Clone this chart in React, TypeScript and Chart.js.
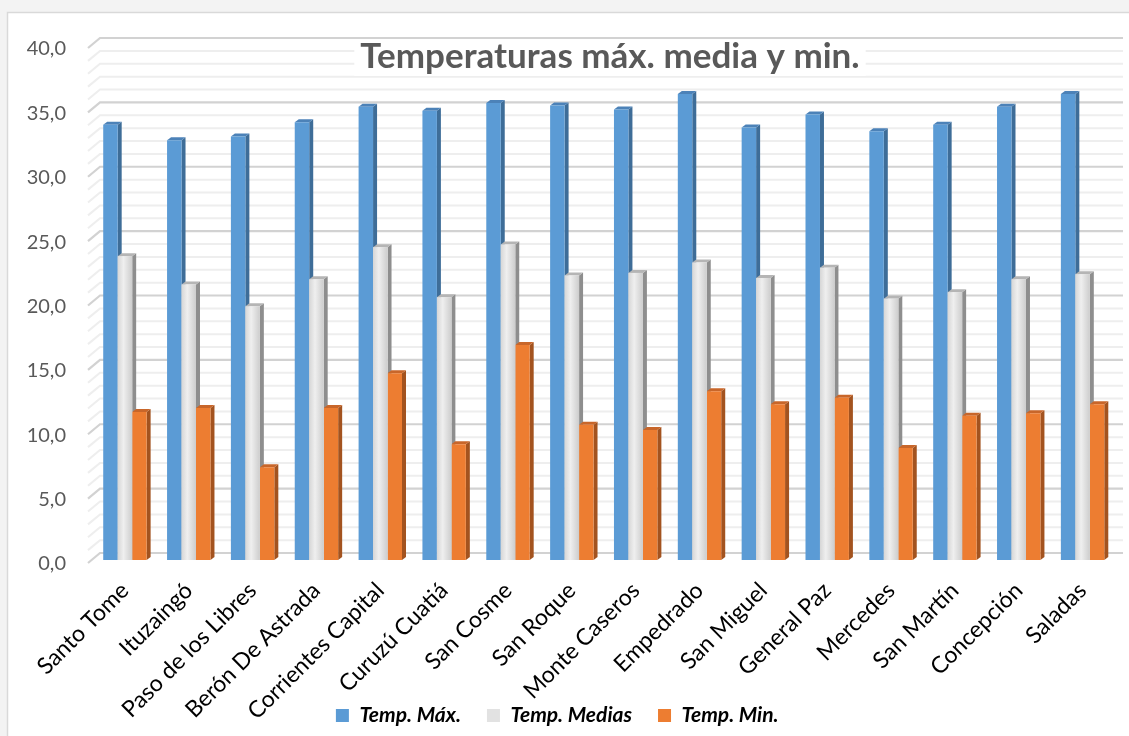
import React, { useEffect, useRef } from 'react';
import { Chart, registerables } from 'chart.js';

Chart.register(...registerables);

const W = 1129;
const H = 736;

const categories = [
  'Santo Tome', 'Ituzaingó', 'Paso de los Libres', 'Berón De Astrada', 'Corrientes Capital',
  'Curuzú Cuatiá', 'San Cosme', 'San Roque', 'Monte Caseros', 'Empedrado', 'San Miguel',
  'General Paz', 'Mercedes', 'San Martín', 'Concepción', 'Saladas',
];
const tempMax = [33.8, 32.6, 32.9, 34.0, 35.2, 34.9, 35.5, 35.3, 35.0, 36.2, 33.6, 34.6, 33.3, 33.8, 35.2, 36.2];
const tempMedias = [23.6, 21.4, 19.7, 21.8, 24.3, 20.4, 24.5, 22.1, 22.3, 23.1, 21.9, 22.7, 20.3, 20.8, 21.8, 22.2];
const tempMin = [11.5, 11.8, 7.2, 11.8, 14.5, 9.0, 16.7, 10.5, 10.1, 13.1, 12.1, 12.6, 8.7, 11.2, 11.4, 12.1];
const yTickLabels = ['0,0', '5,0', '10,0', '15,0', '20,0', '25,0', '30,0', '35,0', '40,0'];
const seriesNames = ['Temp. Máx.', 'Temp. Medias', 'Temp. Min.'];
const titleText = 'Temperaturas máx. media y min.';

const FONT = 'Lato, "Open Sans", sans-serif';
const FRONT = ['#5B9BD5', '#E2E2E2', '#ED7D31'];
const SIDE = ['#3E6D98', '#8E8E8E', '#A3531F'];
const TOP = ['#4C82B8', '#B5B5B5', '#C8662A'];
const DX = 4;
const DY = 3;

const bgPlugin = {
  id: 'bg',
  beforeDraw(chart: any) {
    const ctx = chart.ctx;
    ctx.save();
    ctx.fillStyle = '#f3f3f3';
    ctx.fillRect(0, 0, W, H);
    ctx.fillStyle = '#ffffff';
    ctx.fillRect(7, 12, W, H);
    ctx.strokeStyle = '#d9d9d9';
    ctx.lineWidth = 1.5;
    ctx.strokeRect(7.5, 12.5, W + 20, H + 20);
    ctx.restore();
  },
};

const gridPlugin = {
  id: 'grid3d',
  beforeDatasetsDraw(chart: any) {
    const ctx = chart.ctx;
    const y = chart.scales.y;
    const { left, right } = chart.chartArea;
    ctx.save();
    for (let v = 0; v <= 40; v++) {
      const major = v % 5 === 0;
      const py = y.getPixelForValue(v);
      ctx.strokeStyle = major ? '#d2d2d2' : '#eeeeee';
      ctx.lineWidth = major ? 2.2 : 2;
      ctx.beginPath();
      ctx.moveTo(left - 5, py + 3);
      ctx.lineTo(left + 7, py - 7);
      ctx.lineTo(right + 8.5, py - 7);
      ctx.stroke();
    }
    ctx.restore();
  },
};

const sidesPlugin = {
  id: 'sides3d',
  beforeDatasetsDraw(chart: any) {
    const ctx = chart.ctx;
    ctx.save();
    const n = chart.data.labels.length;
    for (let j = 0; j < n; j++) {
      for (let i = 0; i < chart.data.datasets.length; i++) {
        const el = chart.getDatasetMeta(i).data[j];
        if (!el) continue;
        const { x, y, base, width } = el.getProps(['x', 'y', 'base', 'width'], true);
        const x0 = x - width / 2;
        const x1 = x + width / 2;
        ctx.fillStyle = SIDE[i];
        ctx.beginPath();
        ctx.moveTo(x1, y);
        ctx.lineTo(x1 + DX, y - DY);
        ctx.lineTo(x1 + DX, base - DY);
        ctx.lineTo(x1, base);
        ctx.closePath();
        ctx.fill();
        ctx.fillStyle = TOP[i];
        ctx.beginPath();
        ctx.moveTo(x0, y);
        ctx.lineTo(x1, y);
        ctx.lineTo(x1 + DX, y - DY);
        ctx.lineTo(x0 + DX, y - DY);
        ctx.closePath();
        ctx.fill();
      }
    }
    ctx.restore();
  },
};

const frontPlugin = {
  id: 'front3d',
  afterDatasetsDraw(chart: any) {
    const ctx = chart.ctx;
    ctx.save();
    const meta = chart.getDatasetMeta(1);
    meta.data.forEach((el: any) => {
      const { x, y, base, width } = el.getProps(['x', 'y', 'base', 'width'], true);
      const x0 = x - width / 2;
      const g = ctx.createLinearGradient(x0, 0, x0 + width, 0);
      g.addColorStop(0, '#d6d6d6');
      g.addColorStop(0.4, '#efefef');
      g.addColorStop(1, '#cdcdcd');
      ctx.fillStyle = g;
      ctx.fillRect(x0, y, width, base - y);
    });
    // title
    ctx.font = `bold 35px ${FONT}`;
    const tw = ctx.measureText(titleText).width;
    const cx = 610;
    ctx.fillStyle = '#ffffff';
    ctx.fillRect(cx - tw / 2 - 6, 40, tw + 12, 36);
    ctx.fillStyle = '#595959';
    ctx.textAlign = 'center';
    ctx.textBaseline = 'middle';
    ctx.fillText(titleText, cx, 57);
    ctx.restore();
  },
};

const layoutTweaks = {
  id: 'layoutTweaks',
  afterLayout(chart: any) {
    const xs = chart.scales.x;
    if (xs) xs._computeLabelArea = () => undefined;
  },
};

export default function App() {
  const ref = useRef<HTMLCanvasElement>(null);
  useEffect(() => {
    document.body.style.margin = '0';
    const canvas = ref.current!;
    const chart = new Chart(canvas, {
      type: 'bar',
      data: {
        labels: categories,
        datasets: [
          { label: seriesNames[0], data: tempMax, backgroundColor: FRONT[0], borderWidth: 0 },
          { label: seriesNames[1], data: tempMedias, backgroundColor: FRONT[1], borderWidth: 0 },
          { label: seriesNames[2], data: tempMin, backgroundColor: FRONT[2], borderWidth: 0 },
        ],
      },
      options: {
        responsive: false,
        animation: false,
        layout: { padding: { top: 45, right: 14.5, left: 0, bottom: 0 } },
        datasets: { bar: { categoryPercentage: 0.68, barPercentage: 1.0 } },
        scales: {
          x: {
            grid: { display: false },
            border: { display: false },
            ticks: {
              autoSkip: false,
              minRotation: 45,
              maxRotation: 45,
              padding: 9,
              color: '#000000',
              font: { family: FONT, size: 23 },
            },
            afterFit(scale: any) { scale.height = 119; },
          },
          y: {
            min: 0,
            max: 40,
            grid: { display: false },
            border: { display: false },
            ticks: {
              stepSize: 5,
              padding: 19,
              labelOffset: 4,
              color: '#595959',
              font: { family: FONT, size: 20 },
              callback: (v: any) => yTickLabels[Math.round(Number(v) / 5)],
            },
            afterFit(scale: any) { scale.width = 93; },
          },
        },
        plugins: {
          title: { display: false },
          tooltip: { enabled: false },
          legend: {
            position: 'bottom',
            labels: {
              boxWidth: 13,
              boxHeight: 13,
              padding: 26,
              color: '#000000',
              font: { family: FONT, size: 21, style: 'italic', weight: 'bold' },
            },
          },
        },
      },
      plugins: [bgPlugin, gridPlugin, sidesPlugin, frontPlugin, layoutTweaks],
    } as any);
    return () => chart.destroy();
  }, []);
  return <canvas ref={ref} width={W} height={H} style={{ display: 'block' }} />;
}
